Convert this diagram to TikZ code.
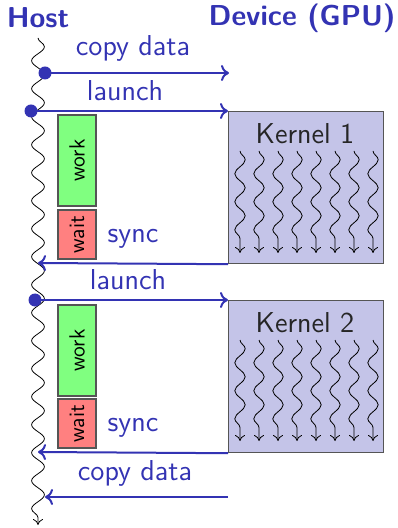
\documentclass[tikz,border=0pt]{standalone}
\usepackage{fontspec}
\usetikzlibrary{decorations.pathmorphing,arrows.meta}
\definecolor{hblue}{RGB}{51,51,179}
\definecolor{kfill}{RGB}{196,196,232}
\definecolor{wgreen}{RGB}{128,255,128}
\definecolor{wred}{RGB}{255,128,128}
\definecolor{bgray}{RGB}{85,85,85}
\tikzset{
  titletext/.style={font=\sffamily\bfseries\Large, text=hblue, inner sep=0pt},
  lbl/.style={font=\sffamily\Large, text=hblue, inner sep=0pt},
  hostline/.style={draw=black, line width=0.4pt, -{To[length=3pt,width=5pt]},
    decorate, decoration={snake, amplitude=3.2pt, segment length=14pt, post length=3pt}},
  thread/.style={draw=black, line width=0.4pt, -{To[length=3pt,width=5pt]},
    decorate, decoration={snake, amplitude=2.6pt, segment length=14pt, post length=3pt}},
  msg/.style={draw=hblue, line width=1pt, -{To[length=4pt,width=8pt]}},
  hdot/.style={circle, fill=hblue, inner sep=0pt, minimum size=6.5pt},
  kernelbox/.style={draw=bgray, line width=0.6pt, fill=kfill, minimum width=77.5pt,
    minimum height=76pt, anchor=north west, inner sep=0pt},
  ktext/.style={font=\sffamily\Large, text=black!85, inner sep=0pt},
  workbox/.style={draw=bgray, line width=0.6pt, fill=wgreen, rotate=90, minimum height=19pt,
    inner sep=0pt, font=\sffamily\fontsize{11}{13}\selectfont},
  waitbox/.style={workbox, fill=wred}
}
\begin{document}
\begin{tikzpicture}[x=0.5pt,y=-0.5pt]
\useasboundingbox (0,0) rectangle (397,528);
% titles
\node[titletext] (host) at (38,18) {Host};
\node[titletext] (dev) at (302,18) {Device (GPU)};
% host timeline
\coordinate (htop) at (38,38);
\coordinate (hbot) at (38,525);
\draw[hostline] (htop) -- (hbot);
% kernel boxes
\node[kernelbox] (k1) at (228,111) {};
\node[ktext] (k1t) at (305,134) {Kernel 1};
\node[kernelbox] (k2) at (228,300) {};
\node[ktext] (k2t) at (305,323) {Kernel 2};
\foreach \i in {0,...,7}{
  \coordinate (a\i) at ({240+19*\i},151);
  \coordinate (b\i) at ({240+19*\i},253);
  \draw[thread] (a\i) -- (b\i);
  \coordinate (c\i) at ({240+19*\i},340);
  \coordinate (e\i) at ({240+19*\i},441);
  \draw[thread] (c\i) -- (e\i);
}
% work / wait boxes
\node[workbox, minimum width=45.5pt] (w1) at (77,160.5) {work};
\node[waitbox, minimum width=24.5pt] (t1) at (77,234.5) {wait};
\node[workbox, minimum width=45.5pt] (w2) at (77,350.5) {work};
\node[waitbox, minimum width=24.5pt] (t2) at (77,423.5) {wait};
% messages
\node[hdot] (d1) at (45,73) {};
\coordinate (c1) at (229,73);
\draw[msg] (d1.center) -- (c1);
\node[lbl] (l1) at (133,48) {copy data};

\node[hdot] (d2) at (31,111) {};
\draw[msg] (d2.center) -- (k1.north west);
\node[lbl] (l2) at (125,91) {launch};

\coordinate (s1) at (38,263);
\draw[msg] (k1.south west) -- (s1);
\node[lbl] (l3) at (133,239) {sync};

\node[hdot] (d3) at (35,300) {};
\draw[msg] (d3.center) -- (k2.north west);
\node[lbl] (l4) at (128,280) {launch};

\coordinate (s2) at (38,452);
\draw[msg] (k2.south west) -- (s2);
\node[lbl] (l5) at (133,428) {sync};

\coordinate (c2) at (228,497);
\coordinate (c3) at (45,497);
\draw[msg] (c2) -- (c3);
\node[lbl] (l6) at (135,473) {copy data};
\end{tikzpicture}
\end{document}
